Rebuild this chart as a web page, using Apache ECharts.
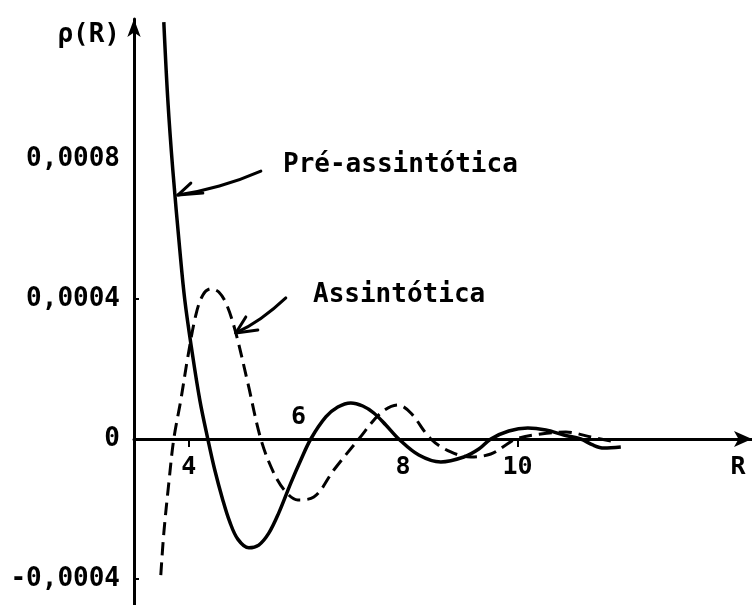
<!DOCTYPE html>
<html>
<head>
<meta charset="utf-8">
<script src="https://cdn.jsdelivr.net/npm/echarts@6/dist/echarts.min.js"></script>
<style>
  html, body { margin: 0; padding: 0; background: #fff; }
  #chart { width: 752px; height: 605px; }
</style>
</head>
<body>
<div id="chart"></div>
<script>
// Pre-asymptotic density rho(R)
const preR = [3.544, 3.617, 3.708, 3.836, 3.927, 4.055, 4.201, 4.347, 4.474, 4.62, 4.748, 4.894, 5.095, 5.277, 5.46, 5.642, 5.861, 6.044, 6.226, 6.5, 6.719, 6.956, 7.175, 7.376, 7.595, 7.832, 8.197, 8.599, 9.018, 9.292, 9.511, 9.839, 10.186, 10.515, 10.843, 11.153, 11.372, 11.573, 11.883];
const preRho = [0.001191, 0.000969, 0.000769, 0.00054, 0.000397, 0.000254, 0.000111, 0, -0.0000886, -0.000174, -0.000237, -0.000286, -0.000311, -0.000303, -0.000269, -0.000211, -0.000126, -0.00006, 0, 0.0000629, 0.0000914, 0.000103, 0.0000943, 0.0000743, 0.00004, 0, -0.0000457, -0.0000657, -0.0000514, -0.0000286, 0, 0.0000229, 0.0000314, 0.0000257, 0.0000114, 0, -0.0000171, -0.0000257, -0.0000229];

// Asymptotic density rho(R)
const asyR = [3.489, 3.544, 3.635, 3.726, 3.854, 3.982, 4.128, 4.255, 4.401, 4.547, 4.693, 4.858, 5.077, 5.314, 5.551, 5.77, 5.989, 6.281, 6.646, 7.102, 7.504, 7.814, 8.051, 8.416, 8.781, 9.146, 9.511, 9.785, 9.967, 10.423, 10.88, 11.336, 11.792];
const asyRho = [-0.000389, -0.000269, -0.000126, 0, 0.000111, 0.000234, 0.000354, 0.000411, 0.000429, 0.00042, 0.000383, 0.000303, 0.00016, 0, -0.0000971, -0.000151, -0.000174, -0.000166, -0.0000886, 0, 0.0000743, 0.0000971, 0.0000743, 0, -0.0000371, -0.0000514, -0.0000429, -0.0000171, 0, 0.0000143, 0.00002, 0.0000057, -0.0000086];

// Axis ticks and labels
const xLabelsBelow = [4, 8, 10];
const xLabelsAbove = [6];
const xTicks = [4, 10];
const yLabels = [-0.0004, 0, 0.0004, 0.0008];
const yTicks = [-0.0004, 0.0004];
const X_MIN = 3;
const X_MAX = 14.277;

// Points the two captions' arrows point at, in data units
const preArrowAt = [3.80, 0.000697];
const asyArrowAt = [4.858, 0.000303];

const FONT = 'DejaVu Sans Mono';
const INK = '#000';

function zip(xs, ys) { return xs.map((x, i) => [x, ys[i]]); }
function fmtY(v) {
  if (Math.abs(v) < 1e-12) return '0';
  return v.toFixed(4).replace('.', ',');
}

const chart = echarts.init(document.getElementById('chart'), null, { renderer: 'canvas' });

const option = {
  backgroundColor: '#fff',
  animation: false,
  grid: { left: 134, right: 0, top: 19, bottom: -2, containLabel: false, outerBoundsMode: 'none' },
  xAxis: {
    type: 'value', min: X_MIN, max: X_MAX,
    axisLine: { onZero: true, symbol: ['none', 'arrow'], symbolSize: [12, 18], lineStyle: { color: INK, width: 3 } },
    axisTick: { show: true, customValues: xTicks, length: 8, lineStyle: { color: INK, width: 2 } },
    axisLabel: { show: false },
    splitLine: { show: false }
  },
  yAxis: {
    type: 'value', min: -0.00048, max: 0.0012,
    name: 'ρ(R)', nameLocation: 'end', nameGap: -16,
    nameTextStyle: { fontFamily: FONT, fontSize: 26, fontWeight: 'bold', color: INK, align: 'right', verticalAlign: 'middle', padding: [0, 14, 0, 0] },
    axisLine: { show: true, onZero: false, symbol: ['none', 'arrow'], symbolSize: [10, 18], lineStyle: { color: INK, width: 3 } },
    axisTick: { show: true, inside: true, customValues: yTicks, length: 5, lineStyle: { color: INK, width: 2 } },
    axisLabel: { customValues: yLabels, formatter: fmtY, fontFamily: FONT, fontSize: 26, fontWeight: 'bold', color: INK, margin: 14 },
    splitLine: { show: false }
  },
  series: [
    {
      name: 'Pré-assintótica', type: 'line', data: zip(preR, preRho),
      smooth: 0.35, showSymbol: false, clip: true,
      lineStyle: { color: INK, width: 3.5, type: 'solid' }
    },
    {
      name: 'Assintótica', type: 'line', data: zip(asyR, asyRho),
      smooth: 0.35, showSymbol: false, clip: true,
      lineStyle: { color: INK, width: 3, type: [13, 7] }
    }
  ]
};
chart.setOption(option);

const toPx = (p) => chart.convertToPixel({ gridIndex: 0 }, p);
const textFont = 'bold 25px "' + FONT + '"';
const label = (x, y, text) => ({ type: 'text', x: x, y: y, style: { text: text, font: textFont, fill: INK, align: 'center', verticalAlign: 'middle' }, silent: true });

// R tick labels sit on the zero line: most below it, the 6 above it
const tickTexts = [];
xLabelsBelow.forEach((v) => {
  const p = toPx([v, 0]);
  tickTexts.push(label(p[0] - (v === 8 ? 5 : 0), p[1] + 28, String(v)));
});
xLabelsAbove.forEach((v) => {
  const p = toPx([v, 0]);
  tickTexts.push(label(p[0], p[1] - 22, String(v)));
});
// Axis name under the arrow head
const rEnd = toPx([X_MAX, 0]);
tickTexts.push(label(rEnd[0] - 14, rEnd[1] + 28, 'R'));

// Hand-drawn style arrows from each caption to its curve
function arrow(tip, tail, head1, head2) {
  const s = { stroke: INK, lineWidth: 3, fill: null, lineCap: 'round', lineJoin: 'round' };
  return [
    { type: 'polyline', shape: { points: [tail, [(tip[0] + tail[0]) / 2, (tip[1] + tail[1]) / 2 + 3], tip], smooth: 0.5 }, style: s, silent: true },
    { type: 'polyline', shape: { points: [head1, tip, head2] }, style: s, silent: true }
  ];
}
const tipPre = toPx(preArrowAt);
const tipAsy = toPx(asyArrowAt);

const graphics = [].concat(
  tickTexts,
  arrow(tipPre, [tipPre[0] + 83, tipPre[1] - 24], [tipPre[0] + 13, tipPre[1] - 12], [tipPre[0] + 25, tipPre[1] - 2]),
  arrow(tipAsy, [tipAsy[0] + 50, tipAsy[1] - 35], [tipAsy[0] + 10, tipAsy[1] - 16], [tipAsy[0] + 22, tipAsy[1] - 3]),
  [
    { type: 'text', left: 283, top: 152, style: { text: 'Pré-assintótica', font: 'bold 26px "' + FONT + '"', fill: INK }, silent: true },
    { type: 'text', left: 313, top: 282, style: { text: 'Assintótica', font: 'bold 26px "' + FONT + '"', fill: INK }, silent: true }
  ]
);
chart.setOption({ graphic: graphics });
</script>
</body>
</html>
